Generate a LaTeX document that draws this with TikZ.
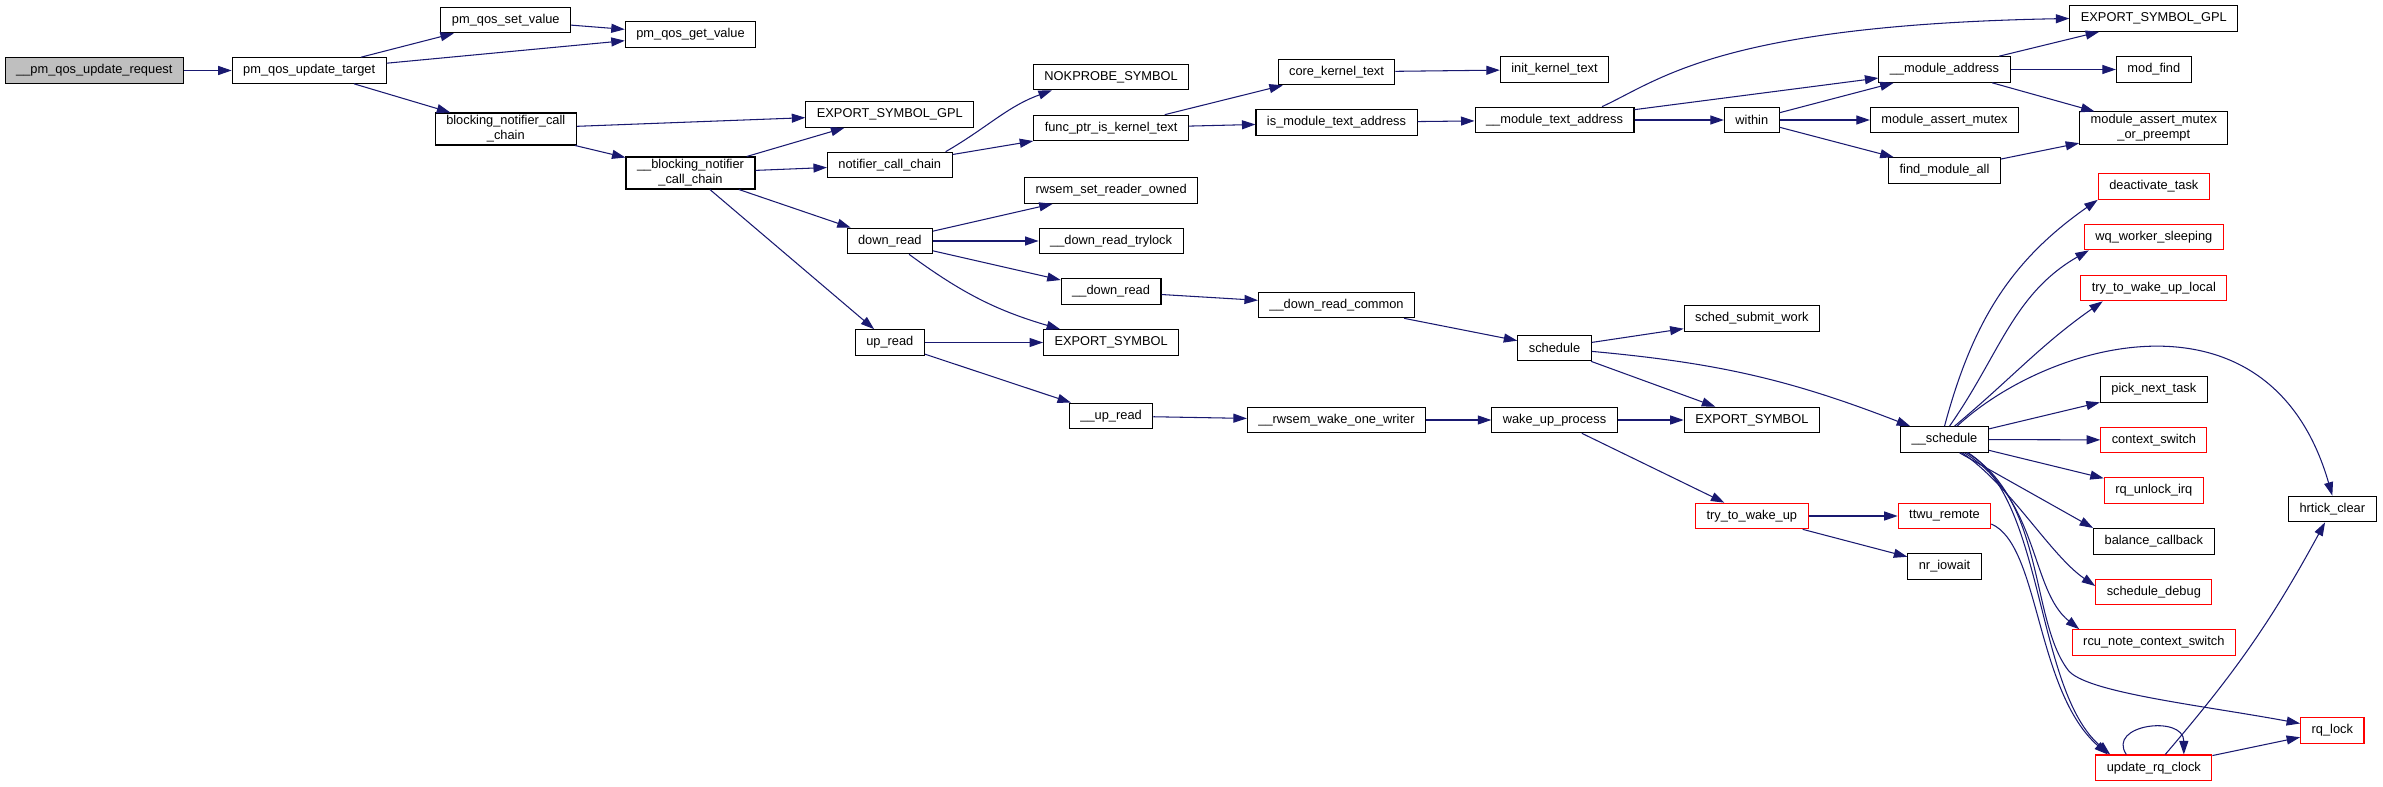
\documentclass[tikz,border=0pt]{standalone}
\usepackage{fontspec}
\setmainfont{Liberation Sans}
\usetikzlibrary{arrows.meta}
\definecolor{edgeblue}{HTML}{191970}
\definecolor{rootgray}{HTML}{BFBFBF}

\begin{document}
\begin{tikzpicture}[line width=0.6pt,
  fn/.style={draw=black,fill=white,inner xsep=0.22cm,inner ysep=0.05cm,minimum height=0.512cm,align=center,font=\fontsize{7.3}{8.6}\selectfont},
  fnred/.style={fn,draw=red},
  fnroot/.style={fn,fill=rootgray},
  call/.style={draw=edgeblue,-{Triangle[length=0.27cm,width=0.18cm]}}]
\useasboundingbox (0,0) rectangle (47.660,-15.740);
\node[fnroot] (req) at (1.886,-1.410) {\_\_pm\_qos\_update\_request};
\node[fn] (target) at (6.184,-1.410) {pm\_qos\_update\_target};
\node[fn] (setval) at (10.116,-0.400) {pm\_qos\_set\_value};
\node[fn] (bncc) at (10.116,-2.580) {blocking\_notifier\_call\\\_chain};
\node[fn] (getval) at (13.810,-0.690) {pm\_qos\_get\_value};
\node[fn] (ubncc) at (13.810,-3.460) {\_\_blocking\_notifier\\\_call\_chain};
\node[fn] (gplA) at (17.796,-2.290) {EXPORT\_SYMBOL\_GPL};
\node[fn] (ncc) at (17.796,-3.300) {notifier\_call\_chain};
\node[fn] (downread) at (17.796,-4.820) {down\_read};
\node[fn] (upread) at (17.796,-6.850) {up\_read};
\node[fn] (nokprobe) at (22.222,-1.540) {NOKPROBE\_SYMBOL};
\node[fn] (funcptr) at (22.222,-2.560) {func\_ptr\_is\_kernel\_text};
\node[fn] (rwsemset) at (22.222,-3.810) {rwsem\_set\_reader\_owned};
\node[fn] (trylock) at (22.222,-4.820) {\_\_down\_read\_trylock};
\node[fn] (udownread) at (22.222,-5.830) {\_\_down\_read};
\node[fn] (expA) at (22.222,-6.850) {EXPORT\_SYMBOL};
\node[fn] (uupread) at (22.222,-8.320) {\_\_up\_read};
\node[fn] (corekt) at (26.730,-1.440) {core\_kernel\_text};
\node[fn] (ismta) at (26.730,-2.450) {is\_module\_text\_address};
\node[fn] (drc) at (26.730,-6.100) {\_\_down\_read\_common};
\node[fn] (rwo) at (26.730,-8.400) {\_\_rwsem\_wake\_one\_writer};
\node[fn] (initkt) at (31.090,-1.390) {init\_kernel\_text};
\node[fn] (umta) at (31.090,-2.400) {\_\_module\_text\_address};
\node[fn] (sched) at (31.090,-6.960) {schedule};
\node[fn] (wup) at (31.090,-8.400) {wake\_up\_process};
\node[fn] (within) at (35.036,-2.400) {within};
\node[fn] (submit) at (35.036,-6.370) {sched\_submit\_work};
\node[fn] (expB) at (35.036,-8.400) {EXPORT\_SYMBOL};
\node[fnred] (ttwu) at (35.036,-10.320) {try\_to\_wake\_up};
\node[fn] (umaddr) at (38.890,-1.390) {\_\_module\_address};
\node[fn] (mam) at (38.890,-2.400) {module\_assert\_mutex};
\node[fn] (fma) at (38.890,-3.410) {find\_module\_all};
\node[fn] (usched) at (38.890,-8.790) {\_\_schedule};
\node[fnred] (ttwur) at (38.890,-10.320) {ttwu\_remote};
\node[fn] (nriow) at (38.890,-11.330) {nr\_iowait};
\node[fn] (gplB) at (43.076,-0.370) {EXPORT\_SYMBOL\_GPL};
\node[fn] (modfind) at (43.076,-1.390) {mod\_find};
\node[fn] (mamp) at (43.076,-2.560) {module\_assert\_mutex\\\_or\_preempt};
\node[fnred] (deact) at (43.076,-3.730) {deactivate\_task};
\node[fnred] (wqws) at (43.076,-4.740) {wq\_worker\_sleeping};
\node[fnred] (ttwul) at (43.076,-5.760) {try\_to\_wake\_up\_local};
\node[fn] (picknext) at (43.076,-7.790) {pick\_next\_task};
\node[fnred] (ctxsw) at (43.076,-8.800) {context\_switch};
\node[fnred] (rqunlock) at (43.076,-9.810) {rq\_unlock\_irq};
\node[fn] (balcb) at (43.076,-10.826) {balance\_callback};
\node[fnred] (schdbg) at (43.076,-11.840) {schedule\_debug};
\node[fnred] (rcu) at (43.076,-12.850) {rcu\_note\_context\_switch};
\node[fnred] (urc) at (43.076,-15.356) {update\_rq\_clock};
\node[fn] (hrtick) at (46.646,-10.180) {hrtick\_clear};
\node[fnred] (rqlock) at (46.646,-14.610) {rq\_lock};
\draw[call] (req) -- (target);
\draw[call] (target) -- (setval);
\draw[call] (target) -- (getval);
\draw[call] (target) -- (bncc);
\draw[call] (setval) -- (getval);
\draw[call] (bncc) -- (gplA);
\draw[call] (bncc) -- (ubncc);
\draw[call] (ubncc) -- (gplA);
\draw[call] (ubncc) -- (ncc);
\draw[call] (ubncc) -- (downread);
\draw[call] (ubncc) -- (upread);
\draw[call] ([xshift=-0.14cm]ncc.north east) to[out=30,in=200] ([xshift=0.38cm]nokprobe.south west);
\draw[call] (ncc) -- (funcptr);
\draw[call] (funcptr) -- (corekt);
\draw[call] (funcptr) -- (ismta);
\draw[call] (corekt) -- (initkt);
\draw[call] (ismta) -- (umta);
\draw[call] ([xshift=0.95cm]umta.north) .. controls (33.200,-1.600) and (34.400,-0.500) .. (gplB.west);
\draw[call] (umta) -- (umaddr);
\draw[call] (umta) -- (within);
\draw[call] (within) -- (umaddr);
\draw[call] (within) -- (mam);
\draw[call] (within) -- (fma);
\draw[call] (umaddr) -- (gplB);
\draw[call] (umaddr) -- (modfind);
\draw[call] (umaddr) -- (mamp);
\draw[call] (fma) -- (mamp);
\draw[call] (downread) -- (rwsemset);
\draw[call] (downread) -- (trylock);
\draw[call] (downread) -- (udownread);
\draw[call] (downread) to[bend right=10] (expA);
\draw[call] (upread) -- (expA);
\draw[call] (upread) -- (uupread);
\draw[call] (udownread) -- (drc);
\draw[call] (drc) -- (sched);
\draw[call] (sched) -- (submit);
\draw[call] (sched) -- (expB);
\draw[call] (sched) to[bend left=8] (usched);
\draw[call] (uupread) -- (rwo);
\draw[call] (rwo) -- (wup);
\draw[call] (wup) -- (expB);
\draw[call] (wup) -- (ttwu);
\draw[call] (ttwu) -- (ttwur);
\draw[call] (ttwu) -- (nriow);
\draw[call] ([yshift=-0.16cm]ttwur.east) .. controls (40.800,-10.900) and (40.700,-13.800) .. ([xshift=0.25cm]urc.north west);
\draw[call] (usched.north) to[out=75,in=215] (deact.south west);
\draw[call] ([xshift=0.1cm]usched.north) to[out=55,in=210] ([xshift=0.1cm]wqws.south west);
\draw[call] ([xshift=0.2cm]usched.north) to[out=40,in=215] ([xshift=0.45cm]ttwul.south west);
\draw[call] ([xshift=0.25cm]usched.north) .. controls (41.000,-6.800) and (45.400,-5.600) .. (hrtick.north);
\draw[call] (usched) -- (picknext);
\draw[call] (usched) -- (ctxsw);
\draw[call] (usched) -- (rqunlock);
\draw[call] ([xshift=0.3cm]usched.south) -- (balcb.north west);
\draw[call] ([xshift=0.35cm]usched.south) .. controls (40.200,-9.700) and (41.000,-11.100) .. ([yshift=0.12cm]schdbg.west);
\draw[call] ([xshift=0.4cm]usched.south) .. controls (40.800,-10.000) and (40.600,-11.800) .. ([xshift=0.15cm]rcu.north west);
\draw[call] ([xshift=0.45cm]usched.south) .. controls (40.900,-10.000) and (40.600,-12.400) .. (41.360,-13.400) .. controls (41.700,-13.850) and (44.000,-14.100) .. ([yshift=0.14cm]rqlock.west);
\draw[call] ([xshift=0.47cm]usched.south) .. controls (40.900,-10.000) and (40.700,-13.800) .. ([xshift=0.3cm]urc.north west);
\draw[call] ([xshift=-0.55cm]urc.north) .. controls +(-0.4,0.6) and +(0,0.8) .. ([xshift=0.6cm]urc.north);
\draw[call] (urc) -- (rqlock);
\draw[call] (urc) to[bend right=6] (hrtick);
\end{tikzpicture}
\end{document}
